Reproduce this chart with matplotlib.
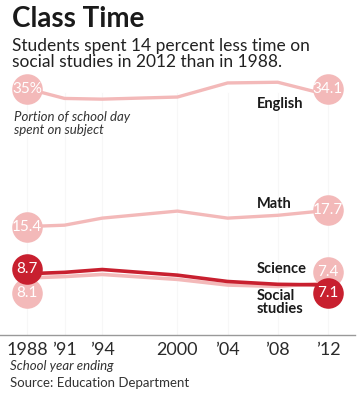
import matplotlib.pyplot as plt
from matplotlib.transforms import offset_copy

plt.rcParams['font.family'] = ['Lato', 'DejaVu Sans']

years = [1988, 1991, 1994, 2000, 2004, 2008, 2012]
tick_labels = ['1988', '\u201991', '\u201994', '2000', '\u201904', '\u201908', '\u201912']

english = [35.0, 33.6, 33.5, 33.8, 35.8, 35.9, 34.1]
math = [15.4, 15.6, 16.6, 17.6, 16.6, 17.0, 17.7]
science = [8.1, 8.3, 8.6, 7.9, 7.1, 6.9, 7.4]
social = [8.7, 8.9, 9.3, 8.5, 7.6, 7.2, 7.1]

end_labels = {
    'english': ('35%', '34.1'),
    'math': ('15.4', '17.7'),
    'science': ('8.1', '7.4'),
    'social': ('8.7', '7.1'),
}

light = '#f3b9b9'
dark = '#c8202f'

fig = plt.figure(figsize=(3.61, 4.0), dpi=100)
ax = fig.add_axes([0, 0.1625, 355 / 361, 0.6875])
ax.set_xlim(1985.85, 2014.16)
ax.set_ylim(0, 39.06)

for y in years:
    ax.axvline(y, ymin=0, ymax=0.88, color='#f7f7f7', lw=0.8, zorder=0)

ax.plot(years, english, color=light, lw=2.4, zorder=2, solid_capstyle='round')
ax.plot(years, math, color=light, lw=2.4, zorder=2, solid_capstyle='round')
ax.plot(years, science, color=light, lw=2.6, zorder=2, solid_capstyle='round')
ax.plot(years, social, color=dark, lw=2.6, zorder=3, solid_capstyle='round')


def bubble(x, y, text, color, dy=0, z=4):
    tr = offset_copy(ax.transData, fig=fig, x=0, y=dy, units='dots')
    ax.plot([x], [y], 'o', ms=22, color=color, mec='none', transform=tr, zorder=z)
    ax.text(x, y, text, transform=tr, ha='center', va='center', color='white',
            fontsize=11, zorder=z + 1)


bubble(years[0], english[0], end_labels['english'][0], light)
bubble(years[-1], english[-1], end_labels['english'][1], light, dy=6)
bubble(years[0], math[0], end_labels['math'][0], light)
bubble(years[-1], math[-1], end_labels['math'][1], light)
bubble(years[0], science[0], end_labels['science'][0], light, dy=-15)
bubble(years[-1], science[-1], end_labels['science'][1], light, dy=11)
bubble(years[0], social[0], end_labels['social'][0], dark, dy=5, z=6)
bubble(years[-1], social[-1], end_labels['social'][1], dark, dy=-8, z=6)

ax.text(2006.3, 32.2, 'English', fontsize=10.5, fontweight='bold', color='#1a1a1a')
ax.text(2006.3, 18.0, 'Math', fontsize=10.5, fontweight='bold', color='#1a1a1a')
ax.text(2006.3, 8.8, 'Science', fontsize=10.5, fontweight='bold', color='#1a1a1a')
ax.text(2006.3, 6.6, 'Social\nstudies', fontsize=10.5, fontweight='bold', color='#1a1a1a',
        va='top', linespacing=0.95)
ax.text(1987.0, 31.8, 'Portion of school day\nspent on subject', fontsize=9.5,
        style='italic', color='#333333', va='top', linespacing=1.05)

for s in ['top', 'right', 'left']:
    ax.spines[s].set_visible(False)
ax.spines['bottom'].set_color('#999999')
ax.spines['bottom'].set_linewidth(1.0)
ax.set_yticks([])
ax.set_xticks(years)
ax.set_xticklabels(tick_labels, fontsize=13, color='#2a2a2a')
ax.tick_params(axis='x', length=0, pad=5)

fig.text(12 / 361, 1 - 6 / 400, 'Class Time', fontsize=20, fontweight='bold',
         color='#1a1a1a', va='top')
fig.text(12 / 361, 1 - 38 / 400, 'Students spent 14 percent less time on\nsocial studies in 2012 than in 1988.',
         fontsize=12.5, color='#222222', va='top', linespacing=1.0)
fig.text(10 / 361, 1 - 360 / 400, 'School year ending', fontsize=9.5, style='italic',
         color='#333333', va='top')
fig.text(10 / 361, 1 - 377 / 400, 'Source: Education Department', fontsize=9.5,
         color='#333333', va='top')

fig.savefig('out.png', dpi=100, facecolor='white')
